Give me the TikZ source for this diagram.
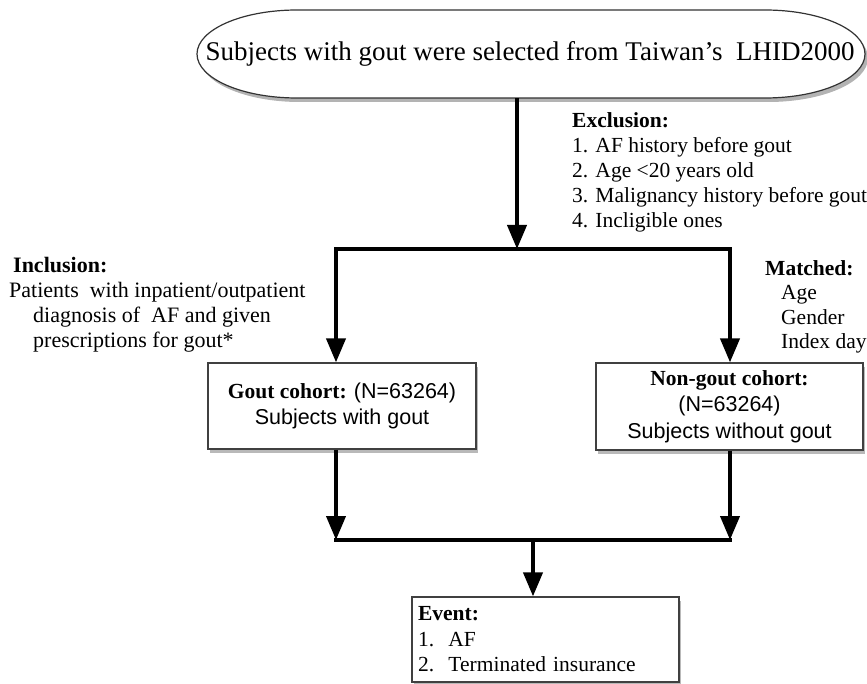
\documentclass[tikz,border=0pt]{standalone}
\usepackage{fontspec}
\setmainfont{Liberation Serif}
\newfontfamily\helv{Liberation Sans}
\usetikzlibrary{arrows.meta,shadows}

\tikzset{
  box/.style={draw=black!75, line width=1.2pt, fill=white, inner sep=0pt,
    drop shadow={shadow xshift=2pt, shadow yshift=-4pt, opacity=.55},
    font=\fontsize{21.5}{26.5}\selectfont},
  note/.style={inner sep=0pt, anchor=north west, align=left,
    font=\fontsize{21.5}{25}\selectfont},
  flow/.style={line width=4pt},
}

\begin{document}
\begin{tikzpicture}[x=1pt, y=-1pt, >={Triangle[width=19pt,length=24pt]}]
\useasboundingbox (0,0) rectangle (867,684);
% source database
\path[draw=black!80, line width=1.2pt, fill=white,
  drop shadow={shadow xshift=3pt, shadow yshift=-4pt, opacity=.6}]
  (297,10) -- (765,10) .. controls (820.2,10) and (865,29.7) .. (865,54)
  .. controls (865,78.3) and (820.2,98) .. (765,98) -- (297,98)
  .. controls (241.8,98) and (197,78.3) .. (197,54)
  .. controls (197,29.7) and (241.8,10) .. (297,10) -- cycle;
\node[font=\fontsize{27}{32}\selectfont, minimum height=88pt, inner sep=0pt]
  (src) at (530,54) {Subjects with gout were selected from Taiwan’s\ \ LHID2000};

% split into the two cohorts
\coordinate (split) at (517,249);
\coordinate (lcorner) at (336,249);
\coordinate (rcorner) at (730,249);
\path[->,flow] (src.south -| split) edge (split);
\draw[flow,line cap=rect] (lcorner) -- (rcorner);

\node[box, minimum width=268pt, minimum height=86pt, align=center]
  (gout) at (342,406) {\textbf{Gout cohort:} {\helv(N=63264)}\\{\helv Subjects with gout}};
\node[box, minimum width=267pt, minimum height=87pt, align=center]
  (nongout) at (729.5,406.5) {\textbf{Non-gout cohort:}\\{\helv(N=63264)}\\{\helv Subjects without gout}};
\path[->,flow] (lcorner) edge (lcorner |- gout.north);
\path[->,flow] (rcorner) edge (rcorner |- nongout.north);

% side notes
\node[note] (excl) at (572,112) {\textbf{Exclusion:}\\1. AF history before gout\\2. Age <20 years old\\3. Malignancy history before gout\\4. Incligible ones};
\node[note, font=\fontsize{22}{25}\selectfont] (incl) at (9,257)
  {\hspace*{4pt}\textbf{Inclusion:}\\Patients\ \ with inpatient/outpatient\\\hspace*{24pt}diagnosis of\ \ AF and given\\\hspace*{24pt}prescriptions for gout*};
\node[note, font=\fontsize{21.5}{24.5}\selectfont] (match) at (765,260)
  {\textbf{Matched:}\\\hspace*{16pt}Age\\\hspace*{16pt}Gender\\\hspace*{16pt}Index day};

% merge to the outcome
\coordinate (lmerge) at (336,540);
\coordinate (rmerge) at (730,540);
\coordinate (join) at (533,540);
\path[->,flow] (gout.south -| lmerge) edge (lmerge);
\path[->,flow] (nongout.south -| rmerge) edge (rmerge);
\draw[flow,line cap=rect] (lmerge) -- (rmerge);

\node[box, minimum width=267pt, minimum height=85pt, text width=255pt, align=left,
  font=\fontsize{21.5}{25.5}\selectfont]
  (event) at (545.5,639.5) {\textbf{Event:}\\1.\ \ AF\\2.\ \ Terminated insurance};
\path[->,flow] (join) edge (join |- event.north);
\end{tikzpicture}
\end{document}
